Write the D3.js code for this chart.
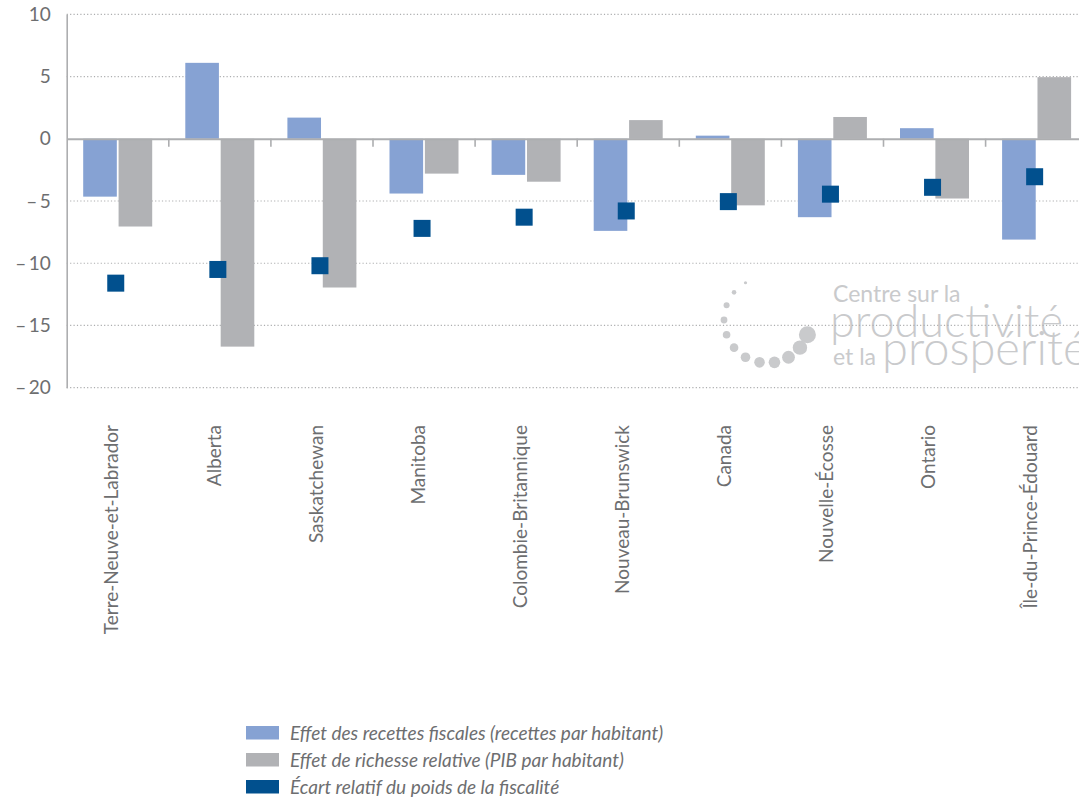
<!DOCTYPE html>
<html>
<head>
<meta charset="utf-8">
<script src="https://cdn.jsdelivr.net/npm/d3@7"></script>
<style>
  html, body { margin: 0; padding: 0; background: #fff; }
  svg { display: block; }
</style>
</head>
<body>
<svg id="chart" width="1079" height="799"></svg>
<script>
const categories = ["Terre-Neuve-et-Labrador","Alberta","Saskatchewan","Manitoba","Colombie-Britannique","Nouveau-Brunswick","Canada","Nouvelle-Écosse","Ontario","Île-du-Prince-Édouard"];
const revenueEffect = [-4.65, 6.1, 1.7, -4.4, -2.9, -7.4, 0.25, -6.3, 0.85, -8.1];
const wealthEffect  = [-7.05, -16.7, -11.95, -2.8, -3.45, 1.5, -5.35, 1.75, -4.8, 4.95];
const taxGap        = [-11.6, -10.5, -10.2, -7.2, -6.3, -5.8, -5.05, -4.45, -3.9, -3.05];
const yTicks = [10, 5, 0, -5, -10, -15, -20];
const seriesNames = ["Effet des recettes fiscales (recettes par habitant)", "Effet de richesse relative (PIB par habitant)", "Écart relatif du poids de la fiscalité"];
const colors = ["#86a2d3", "#b1b2b5", "#01508e"];

const svg = d3.select("#chart");
const font = "Lato, 'Open Sans', sans-serif";
const textCol = "#6d6e70";
const axisCol = "#adaeb0";

const x0 = 66.7, xRight = 1087.7;
const x = d3.scaleBand().domain(categories).range([x0, xRight]).paddingInner(0).paddingOuter(0);
const xs = d3.scaleBand().domain(["rev","wealth"]).range([16.5, 85.5]).paddingInner(0.05);
const y = d3.scaleLinear().domain([-20, 10]).range([387.7, 14.3]);

// logo watermark (decoration)
const logo = svg.append("g").attr("fill", "#c9cacc");
const dotAngles = d3.range(12).map(i => 240 - i * 20);
const dotRadii = [1.6, 2.3, 3, 3.4, 3.8, 4.3, 4.8, 5.3, 5.8, 6.4, 7.2, 8.5];
logo.selectAll("circle").data(dotAngles).join("circle")
  .attr("cx", d => 767 + 43 * Math.cos(d * Math.PI / 180))
  .attr("cy", d => 320 + 43 * Math.sin(d * Math.PI / 180))
  .attr("r", (d, i) => dotRadii[i]);
const lt = logo.append("text").attr("font-family", font);
lt.append("tspan").attr("x", 833).attr("y", 302).attr("font-size", 23).text("Centre sur la");
lt.append("tspan").attr("x", 830).attr("y", 337).attr("font-size", 45).attr("font-weight", 300).text("productivité");
lt.append("tspan").attr("x", 833).attr("y", 365).attr("font-size", 23).text("et la");
lt.append("tspan").attr("x", 882).attr("y", 365).attr("font-size", 47).attr("font-weight", 300).text("prospérité");

// gridlines
svg.append("g").selectAll("line").data(yTicks.filter(d => d !== 0)).join("line")
  .attr("x1", x0).attr("x2", 1079)
  .attr("y1", d => y(d)).attr("y2", d => y(d))
  .attr("stroke", axisCol).attr("stroke-width", 1.2).attr("stroke-dasharray", "1.2,2.2");

// y axis
const yAxis = d3.axisLeft(y).tickValues(yTicks).tickSize(0).tickPadding(16)
  .tickFormat(d => d < 0 ? "\u2013\u2009" + Math.abs(d) : String(d));
const gy = svg.append("g").attr("transform", `translate(${x0},0)`).call(yAxis);
gy.select(".domain").attr("stroke", axisCol).attr("stroke-width", 1.6);
gy.selectAll("text").attr("font-family", font).attr("font-size", 19).attr("fill", textCol);

// bars
const groups = svg.append("g").selectAll("g").data(categories).join("g")
  .attr("transform", d => `translate(${x(d)},0)`);
groups.append("rect")
  .attr("x", xs("rev")).attr("width", xs.bandwidth())
  .attr("y", (d, i) => y(Math.max(0, revenueEffect[i])))
  .attr("height", (d, i) => Math.abs(y(revenueEffect[i]) - y(0)))
  .attr("fill", colors[0]);
groups.append("rect")
  .attr("x", xs("wealth")).attr("width", xs.bandwidth())
  .attr("y", (d, i) => y(Math.max(0, wealthEffect[i])))
  .attr("height", (d, i) => Math.abs(y(wealthEffect[i]) - y(0)))
  .attr("fill", colors[1]);

// zero line and x axis ticks
const xAxis = d3.axisBottom(x).tickSize(0).tickFormat("");
const gx = svg.append("g").attr("transform", `translate(0,${y(0)})`).call(xAxis);
gx.select(".domain").attr("stroke", axisCol).attr("stroke-width", 2);
gx.selectAll(".tick").remove();
svg.append("g").selectAll("line").data(categories.slice(1)).join("line")
  .attr("x1", d => x(d)).attr("x2", d => x(d))
  .attr("y1", y(0)).attr("y2", y(0) + 8)
  .attr("stroke", axisCol).attr("stroke-width", 1.6);

// markers
const ms = 17;
groups.append("rect")
  .attr("x", x.bandwidth() / 2 - 2 - ms / 2).attr("width", ms)
  .attr("y", (d, i) => y(taxGap[i]) - ms / 2).attr("height", ms)
  .attr("fill", colors[2]);

// x labels
svg.append("g").selectAll("text").data(categories).join("text")
  .attr("transform", d => `translate(${x(d) + x.bandwidth() / 2 - 6},425) rotate(-90)`)
  .attr("text-anchor", "end").attr("dy", "0.35em")
  .attr("font-family", font).attr("font-size", 19).attr("fill", textCol)
  .text(d => d);

// legend
const leg = svg.append("g").selectAll("g").data(seriesNames).join("g")
  .attr("transform", (d, i) => `translate(246,${726 + i * 27})`);
leg.append("rect").attr("width", 33).attr("height", 13.5).attr("fill", (d, i) => colors[i]);
leg.append("text").attr("x", 44).attr("y", 7).attr("dy", "0.35em")
  .attr("font-family", font).attr("font-size", 19).attr("font-style", "italic").attr("fill", textCol)
  .text(d => d);
</script>
</body>
</html>
